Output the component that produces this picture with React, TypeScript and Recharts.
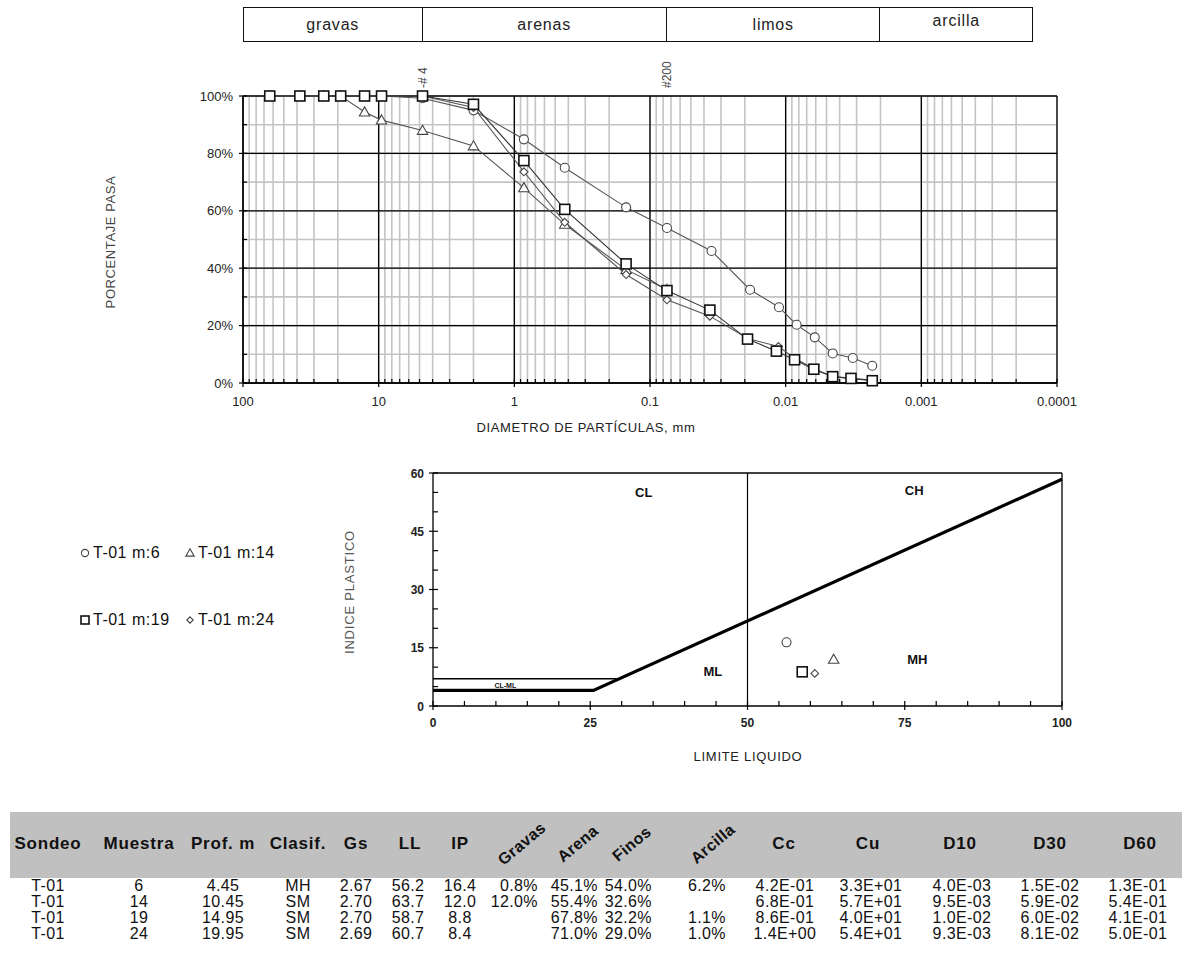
import React from "react";
import {
  LineChart,
  ComposedChart,
  Line,
  Scatter,
  XAxis,
  YAxis,
  CartesianGrid,
  ReferenceLine,
  Label,
} from "recharts";

const FONT = "'Liberation Sans', Arial, Helvetica, sans-serif";
const INK = "#222";

// ---------- curva granulometrica ----------
const sieveSizes = [63.5, 38.1, 25.4, 19.05, 12.7, 9.525, 4.75, 2.0, 0.85, 0.425, 0.15, 0.075];
const hydroM6 = [0.0352, 0.0183, 0.0112, 0.0083, 0.0061, 0.0045, 0.0032, 0.0023];
const hydroM19 = [0.0362, 0.0191, 0.0117, 0.0086, 0.0062, 0.0045, 0.0033, 0.0023];
const hydroM24 = [0.0362, 0.019, 0.0113, 0.0085, 0.0062, 0.0045, 0.0033, 0.0023];

const passM6 = [100, 100, 100, 100, 100, 100, 99.2, 95.0, 84.9, 75.0, 61.2, 54.0, 46.0, 32.5, 26.4, 20.3, 15.9, 10.3, 8.7, 6.0];
const passM14 = [100, 100, 100, 100, 94.4, 91.6, 88.0, 82.6, 68.0, 55.3, 39.5, 32.6];
const passM19 = [100, 100, 100, 100, 100, 100, 100, 97.1, 77.5, 60.5, 41.5, 32.2, 25.4, 15.3, 11.1, 8.1, 4.8, 2.2, 1.6, 0.8];
const passM24 = [100, 100, 100, 100, 100, 100, 100, 96.0, 73.6, 56.0, 37.8, 29.0, 23.3, 15.5, 12.7, 8.5, 5.0, 2.3, 1.6, 1.0];

const decades = [100, 10, 1, 0.1, 0.01, 0.001, 0.0001];
const minorSizes = decades
  .slice(1)
  .flatMap((d) => [2, 3, 4, 5, 6, 7, 8, 9].map((k) => +(k * d).toPrecision(4)));
const pctTicks = [0, 10, 20, 30, 40, 50, 60, 70, 80, 90, 100];
const pctMajor = [0, 20, 40, 60, 80, 100];

const bandNames = ["gravas", "arenas", "limos", "arcilla"];
const bandLimits = [100, 4.75, 0.075, 0.002, 0.00015];

// ---------- carta de plasticidad ----------
const sampleNames = ["T-01 m:6", "T-01 m:14", "T-01 m:19", "T-01 m:24"];
const sampleMarkers = ["circle", "triangle", "square", "diamond"];
const llValues = [56.2, 63.7, 58.7, 60.7];
const ipValues = [16.4, 12.0, 8.8, 8.4];

const aLineLL = [0, 25.5, 100];
const aLineIP = [4, 4, 58.4];
const clmlLL = [0, 29.6];
const clmlIP = [7, 7];

const zoneNames = ["CL", "CH", "ML", "MH", "CL-ML"];
const zoneLL = [33.5, 76.5, 44.5, 77, 11.5];
const zoneIP = [55, 55.5, 9, 12, 5.3];

// ---------- tabla ----------
const headers = ["Sondeo", "Muestra", "Prof. m", "Clasif.", "Gs", "LL", "IP", "Gravas", "Arena", "Finos", "Arcilla", "Cc", "Cu", "D10", "D30", "D60"];
const sondeo = ["T-01", "T-01", "T-01", "T-01"];
const muestra = ["6", "14", "19", "24"];
const prof = ["4.45", "10.45", "14.95", "19.95"];
const clasif = ["MH", "SM", "SM", "SM"];
const gs = ["2.67", "2.70", "2.70", "2.69"];
const ll = ["56.2", "63.7", "58.7", "60.7"];
const ip = ["16.4", "12.0", "8.8", "8.4"];
const gravas = ["0.8%", "12.0%", "", ""];
const arena = ["45.1%", "55.4%", "67.8%", "71.0%"];
const finos = ["54.0%", "32.6%", "32.2%", "29.0%"];
const arcilla = ["6.2%", "", "1.1%", "1.0%"];
const cc = ["4.2E-01", "6.8E-01", "8.6E-01", "1.4E+00"];
const cu = ["3.3E+01", "5.7E+01", "4.0E+01", "5.4E+01"];
const d10 = ["4.0E-03", "9.5E-03", "1.0E-02", "9.3E-03"];
const d30 = ["1.5E-02", "5.9E-02", "6.0E-02", "8.1E-02"];
const d60 = ["1.3E-01", "5.4E-01", "4.1E-01", "5.0E-01"];
const columns = [sondeo, muestra, prof, clasif, gs, ll, ip, gravas, arena, finos, arcilla, cc, cu, d10, d30, d60];
const rotatedHeaders = ["Gravas", "Arena", "Finos", "Arcilla"];

// layout of the table columns (page px); right-aligned columns use the right edge
const colX = [48, 139, 223, 298, 356, 408, 460, 538, 598, 652, 726, 785, 871, 962, 1050, 1138];
const colRight = [false, false, false, false, false, false, false, true, true, true, true, false, false, false, false, false];
const headerX = [48, 139, 223, 298, 356, 410, 460, 522, 578, 632, 713, 784, 868, 960, 1050, 1140];

const toSeries = (sizes: number[], pass: number[]) => pass.map((p, i) => ({ d: sizes[i], p }));
const seriesM6 = toSeries([...sieveSizes, ...hydroM6], passM6);
const seriesM14 = toSeries(sieveSizes, passM14);
const seriesM19 = toSeries([...sieveSizes, ...hydroM19], passM19);
const seriesM24 = toSeries([...sieveSizes, ...hydroM24], passM24);

const aLine = aLineLL.map((v, i) => ({ ll: v, ip: aLineIP[i] }));
const clmlLine = clmlLL.map((v, i) => ({ ll: v, ip: clmlIP[i] }));
const zones = zoneNames.map((n, i) => ({ name: n, ll: zoneLL[i], ip: zoneIP[i] }));

// plot geometry of the grain chart (used only for the band above it)
const G_LEFT = 243;
const G_WIDTH = 814;
const bandX = (d: number) => G_LEFT + ((2 - Math.log10(d)) / 6) * G_WIDTH;

function Marker({ kind, cx, cy, s = 1 }: { kind: string; cx: number; cy: number; s?: number }) {
  if (kind === "circle")
    return <circle cx={cx} cy={cy} r={4.5 * s} fill="#fff" stroke="#444" strokeWidth={1.1} />;
  if (kind === "triangle") {
    const h = 5.2 * s;
    return (
      <polygon
        points={`${cx},${cy - h} ${cx + h},${cy + h * 0.75} ${cx - h},${cy + h * 0.75}`}
        fill="#fff"
        stroke="#444"
        strokeWidth={1.1}
      />
    );
  }
  if (kind === "square") {
    const h = 5 * s;
    return <rect x={cx - h} y={cy - h} width={2 * h} height={2 * h} fill="#fff" stroke="#111" strokeWidth={1.6} />;
  }
  const h = 4 * s;
  return (
    <polygon
      points={`${cx},${cy - h} ${cx + h},${cy} ${cx},${cy + h} ${cx - h},${cy}`}
      fill="#fff"
      stroke="#444"
      strokeWidth={1.1}
    />
  );
}

const dotFor = (kind: string) => (p: any) => (
  <Marker key={`${kind}-${p.index}`} kind={kind} cx={p.cx} cy={p.cy} />
);

const isDecade = (v: number) => decades.some((d) => Math.abs(v / d - 1) < 1e-6);

const GrainXTick = (p: any) => {
  const v = p.payload.value;
  const major = isDecade(v);
  return (
    <g>
      <line x1={p.x} x2={p.x} y1={p.y - 4} y2={major ? p.y + 4 : p.y} stroke="#000" strokeWidth={1.2} />
      {major && (
        <text x={p.x} y={p.y + 23} textAnchor="middle" fontSize={13} fill={INK} fontFamily={FONT}>
          {String(v)}
        </text>
      )}
    </g>
  );
};

const GrainYTick = (p: any) => {
  const v = p.payload.value;
  const major = v % 20 === 0;
  return (
    <g>
      <line x1={major ? p.x - 4 : p.x} x2={p.x + 4} y1={p.y} y2={p.y} stroke="#000" strokeWidth={1.2} />
      {major && (
        <text x={p.x - 10} y={p.y + 4.5} textAnchor="end" fontSize={13} fill={INK} fontFamily={FONT}>
          {v}%
        </text>
      )}
    </g>
  );
};

const PlastXTick = (p: any) => {
  const v = p.payload.value;
  const major = v % 25 === 0;
  return (
    <g>
      <line x1={p.x} x2={p.x} y1={p.y - 5} y2={major ? p.y + 4 : p.y} stroke="#000" strokeWidth={1.2} />
      {major && (
        <text x={p.x} y={p.y + 21} textAnchor="middle" fontSize={12} fontWeight="bold" fill={INK} fontFamily={FONT}>
          {v}
        </text>
      )}
    </g>
  );
};

const PlastYTick = (p: any) => {
  const v = p.payload.value;
  const major = v % 15 === 0;
  return (
    <g>
      <line x1={major ? p.x - 4 : p.x} x2={p.x + 5} y1={p.y} y2={p.y} stroke="#000" strokeWidth={1.2} />
      {major && (
        <text x={p.x - 9} y={p.y + 4.5} textAnchor="end" fontSize={12} fontWeight="bold" fill={INK} fontFamily={FONT}>
          {v}
        </text>
      )}
    </g>
  );
};

const sieveLabel = (text: string) => (props: any) => {
  const vb = props.viewBox || {};
  const x = (vb.x ?? 0) + 4;
  const y = (vb.y ?? 0) - 8;
  return (
    <text x={x} y={y} transform={`rotate(-90 ${x} ${y})`} fontSize={12} fill="#444" fontFamily={FONT}>
      {text}
    </text>
  );
};

function GrainChart() {
  return (
    <LineChart width={1190} height={440} margin={{ top: 96, right: 133, bottom: 0, left: 0 }}>
      <CartesianGrid stroke="#c4c4c4" strokeWidth={1.6} syncWithTicks />
      {decades.map((v) => (
        <ReferenceLine key={`vx${v}`} x={v} stroke="#000" strokeWidth={1.3} {...({ zIndex: -50 } as any)} />
      ))}
      {pctMajor.map((v) => (
        <ReferenceLine key={`hy${v}`} y={v} stroke="#000" strokeWidth={1.3} {...({ zIndex: -50 } as any)} />
      ))}
      <XAxis
        type="number"
        dataKey="d"
        scale="log"
        domain={[0.0001, 100]}
        reversed
        allowDataOverflow
        ticks={[...decades, ...minorSizes]}
        interval={0}
        tickSize={0}
        tickMargin={0}
        tick={GrainXTick}
        height={57}
        axisLine={{ stroke: "#000", strokeWidth: 1.3 }}
      >
        <Label
          content={() => (
            <text x={586} y={432} textAnchor="middle" fontSize={13} letterSpacing={0.6} fill={INK} fontFamily={FONT}>
              DIAMETRO DE PARTÍCULAS, mm
            </text>
          )}
        />
      </XAxis>
      <YAxis
        type="number"
        domain={[0, 100]}
        ticks={pctTicks}
        interval={0}
        width={243}
        tickSize={0}
        tickMargin={0}
        tick={GrainYTick}
        axisLine={{ stroke: "#000", strokeWidth: 1.3 }}
      >
        <Label
          content={() => (
            <text
              x={115}
              y={242}
              transform="rotate(-90 115 242)"
              textAnchor="middle"
              fontSize={13}
              letterSpacing={0.6}
              fill="#444"
              fontFamily={FONT}
            >
              PORCENTAJE PASA
            </text>
          )}
        />
      </YAxis>
      <ReferenceLine x={4.75} stroke="none" label={{ content: sieveLabel("-# 4") } as any} />
      <ReferenceLine x={0.075} stroke="none" label={{ content: sieveLabel("#200") } as any} />
      <Line data={seriesM6} dataKey="p" stroke="#555" strokeWidth={1.1} dot={dotFor("circle")} isAnimationActive={false} />
      <Line data={seriesM14} dataKey="p" stroke="#555" strokeWidth={1.1} dot={dotFor("triangle")} isAnimationActive={false} />
      <Line data={seriesM24} dataKey="p" stroke="#555" strokeWidth={1.1} dot={dotFor("diamond")} isAnimationActive={false} />
      <Line data={seriesM19} dataKey="p" stroke="#333" strokeWidth={1.1} dot={dotFor("square")} isAnimationActive={false} />
    </LineChart>
  );
}

function PlastChart() {
  const llTicks = Array.from({ length: 21 }, (_, i) => i * 5);
  const ipTicks = Array.from({ length: 13 }, (_, i) => i * 5);
  return (
    <ComposedChart width={800} height={340} margin={{ top: 33, right: 38, bottom: 0, left: 0 }}>
      <XAxis
        type="number"
        dataKey="ll"
        domain={[0, 100]}
        ticks={llTicks}
        interval={0}
        tickSize={0}
        tickMargin={0}
        tick={PlastXTick}
        height={74}
        axisLine={{ stroke: "#000", strokeWidth: 1.3 }}
      >
        <Label
          content={() => (
            <text x={448} y={321} textAnchor="middle" fontSize={13} letterSpacing={0.7} fill={INK} fontFamily={FONT}>
              LIMITE LIQUIDO
            </text>
          )}
        />
      </XAxis>
      <YAxis
        type="number"
        dataKey="ip"
        domain={[0, 60]}
        ticks={ipTicks}
        interval={0}
        width={133}
        tickSize={0}
        tickMargin={0}
        tick={PlastYTick}
        axisLine={{ stroke: "#000", strokeWidth: 1.3 }}
      >
        <Label
          content={() => (
            <text
              x={54}
              y={152}
              transform="rotate(-90 54 152)"
              textAnchor="middle"
              fontSize={13}
              letterSpacing={0.8}
              fill="#555"
              fontFamily={FONT}
            >
              INDICE PLASTICO
            </text>
          )}
        />
      </YAxis>
      <ReferenceLine y={60} stroke="#000" strokeWidth={1.3} />
      <ReferenceLine x={100} stroke="#000" strokeWidth={1.3} />
      <ReferenceLine x={50} stroke="#000" strokeWidth={1.2} />
      <Line data={clmlLine} dataKey="ip" stroke="#000" strokeWidth={1.4} dot={false} isAnimationActive={false} />
      <Line data={aLine} dataKey="ip" stroke="#000" strokeWidth={3.2} dot={false} isAnimationActive={false} />
      <Scatter
        data={zones}
        isAnimationActive={false}
        shape={(p: any) => (
          <text
            x={p.cx}
            y={p.cy}
            textAnchor="middle"
            dominantBaseline="central"
            fontSize={p.payload.name === "CL-ML" ? 7 : 13}
            fontWeight="bold"
            fill="#111"
            fontFamily={FONT}
          >
            {p.payload.name}
          </text>
        )}
      />
      {sampleNames.map((n, i) => (
        <Scatter
          key={n}
          name={n}
          data={[{ ll: llValues[i], ip: ipValues[i] }]}
          isAnimationActive={false}
          shape={(p: any) => <Marker kind={sampleMarkers[i]} cx={p.cx} cy={p.cy} s={i === 3 ? 0.95 : 1} />}
        />
      ))}
    </ComposedChart>
  );
}

function BandHeader() {
  const edges = bandLimits.map(bandX);
  return (
    <div>
      {bandNames.map((n, i) => (
        <div
          key={n}
          style={{
            position: "absolute",
            left: edges[i],
            top: 7,
            width: edges[i + 1] - edges[i],
            height: 35,
            boxSizing: "border-box",
            border: "1.5px solid #111",
            borderLeftWidth: i === 0 ? 1.5 : 0,
            display: "flex",
            alignItems: i === 3 ? "flex-start" : "center",
            paddingTop: i === 3 ? 4 : 0,
            justifyContent: "center",
            fontSize: 16,
            letterSpacing: 0.8,
            color: INK,
          }}
        >
          {n}
        </div>
      ))}
    </div>
  );
}

function LegendBox() {
  const pos = [
    { x: 79, y: 544 },
    { x: 184, y: 544 },
    { x: 79, y: 611 },
    { x: 184, y: 611 },
  ];
  return (
    <div>
      {sampleNames.map((n, i) => (
        <div
          key={n}
          style={{
            position: "absolute",
            left: pos[i].x,
            top: pos[i].y,
            height: 18,
            display: "flex",
            alignItems: "center",
            fontSize: 16,
            letterSpacing: 0.5,
            color: "#111",
          }}
        >
          <svg width={12} height={14} style={{ marginRight: 2 }}>
            <Marker kind={sampleMarkers[i]} cx={6} cy={7} s={0.8} />
          </svg>
          {n}
        </div>
      ))}
    </div>
  );
}

function SummaryTable() {
  const rowY = [877, 893, 909, 925];
  return (
    <div>
      <div style={{ position: "absolute", left: 10, top: 812, width: 1172, height: 66, background: "#c0c0c0" }} />
      {headers.map((h, i) => {
        const rotated = rotatedHeaders.includes(h);
        return (
          <div
            key={h}
            style={{
              position: "absolute",
              left: headerX[i] - 50,
              top: 834,
              width: 100,
              textAlign: "center",
              fontSize: rotated ? 16 : 17,
              letterSpacing: rotated ? 0.4 : 0.8,
              fontWeight: "bold",
              color: "#111",
              transform: rotated ? "rotate(-40deg)" : undefined,
              lineHeight: "20px",
            }}
          >
            {h}
          </div>
        );
      })}
      {columns.map((col, c) =>
        col.map((v, r) => (
          <div
            key={`${c}-${r}`}
            style={{
              position: "absolute",
              left: colRight[c] ? colX[c] - 100 : colX[c] - 50,
              top: rowY[r],
              width: 100,
              textAlign: colRight[c] ? "right" : "center",
              fontSize: 16,
              letterSpacing: 0.4,
              lineHeight: "17px",
              color: "#111",
            }}
          >
            {v}
          </div>
        ))
      )}
    </div>
  );
}

export default function App() {
  return (
    <div
      style={{
        position: "absolute",
        left: 0,
        top: 0,
        width: 1190,
        height: 977,
        background: "#fff",
        fontFamily: FONT,
        color: INK,
        overflow: "hidden",
      }}
    >
      <BandHeader />
      <div style={{ position: "absolute", left: 0, top: 0 }}>
        <GrainChart />
      </div>
      <LegendBox />
      <div style={{ position: "absolute", left: 300, top: 440 }}>
        <PlastChart />
      </div>
      <SummaryTable />
    </div>
  );
}
